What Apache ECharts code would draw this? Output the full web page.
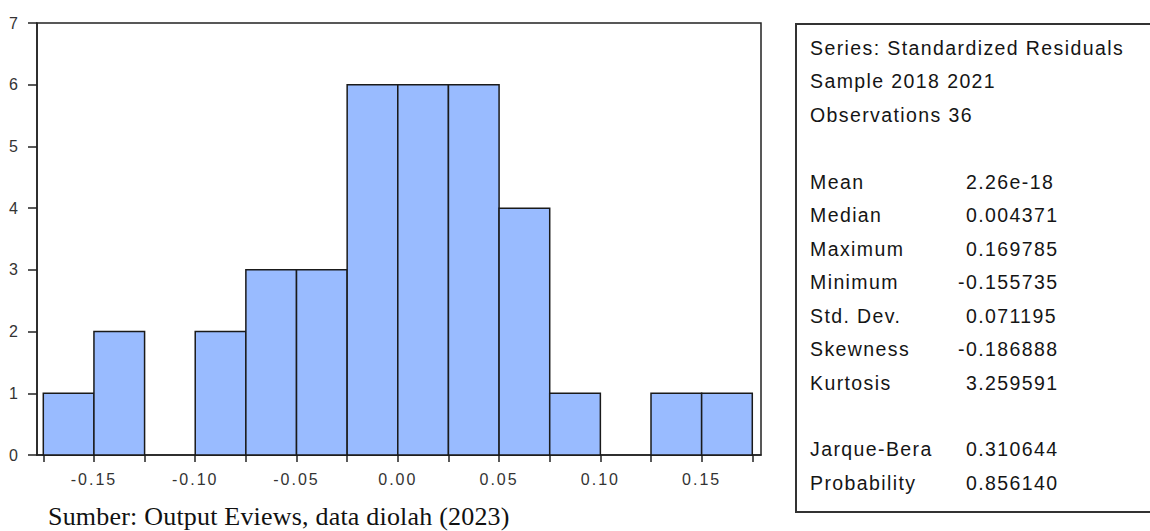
<!DOCTYPE html>
<html>
<head>
<meta charset="utf-8">
<script src="https://cdn.jsdelivr.net/npm/echarts@6/dist/echarts.min.js"></script>
<style>
  html, body { margin: 0; padding: 0; background: #fff; }
  #chart { width: 1150px; height: 531px; }
  /* EViews-style wide text spacing for the sans-serif labels */
  #chart text { letter-spacing: 1.4px; }
  #chart text[style*="Serif"] { letter-spacing: 0.2px; }
</style>
</head>
<body>
<div id="chart"></div>
<script>
// Histogram of standardized residuals: bin edges (width 0.025) and counts per bin
const binEdges = [-0.175, -0.15, -0.125, -0.10, -0.075, -0.05, -0.025, 0.0,
                  0.025, 0.05, 0.075, 0.10, 0.125, 0.15, 0.175];
const counts = [1, 2, 0, 2, 3, 3, 6, 6, 6, 4, 1, 0, 1, 1];

// Labelled ticks on the horizontal axis
const xLabelValues = [-0.15, -0.10, -0.05, 0.0, 0.05, 0.10, 0.15];

// Descriptive statistics panel
const headerLines = ['Series: Standardized Residuals', 'Sample 2018 2021', 'Observations 36'];
const statNames = ['Mean', 'Median', 'Maximum', 'Minimum', 'Std. Dev.', 'Skewness', 'Kurtosis'];
const statValues = ['2.26e-18', '0.004371', '0.169785', '-0.155735', '0.071195', '-0.186888', '3.259591'];
const testNames = ['Jarque-Bera', 'Probability'];
const testValues = ['0.310644', '0.856140'];

const caption = 'Sumber: Output Eviews, data diolah (2023)';

const SANS = '"Liberation Sans", Arial, sans-serif';
const SERIF = '"Liberation Serif", "Times New Roman", serif';
const statFont = '19.5px ' + SANS;
const AXIS_FONT_SIZE = 16;

const histData = [];
counts.forEach((c, i) => {
  if (c > 0) histData.push([binEdges[i], binEdges[i + 1], c]);
});

// Panel text rows
const rowTop = 48, rowStep = 33.45;
const labelX = 810, valueX = 966, minusX = 958;
const panelTexts = [];
function addRow(row, name, value) {
  const y = rowTop + rowStep * row;
  panelTexts.push({
    type: 'text', x: labelX, y: y,
    style: { text: name, font: statFont, fill: '#151515', align: 'left', verticalAlign: 'middle' }
  });
  if (value !== undefined) {
    panelTexts.push({
      type: 'text', x: value.charAt(0) === '-' ? minusX : valueX, y: y,
      style: { text: value, font: statFont, fill: '#151515', align: 'left', verticalAlign: 'middle' }
    });
  }
}
headerLines.forEach((t, i) => addRow(i, t));
statNames.forEach((t, i) => addRow(4 + i, t, statValues[i]));
testNames.forEach((t, i) => addRow(12 + i, t, testValues[i]));

const chart = echarts.init(document.getElementById('chart'), null, { renderer: 'svg' });

chart.setOption({
  animation: false,
  backgroundColor: '#ffffff',
  grid: {
    left: 37, top: 23, width: 724, height: 432,
    show: true, borderColor: '#222', borderWidth: 1.5,
    outerBoundsMode: 'none'
  },
  xAxis: {
    type: 'value',
    min: -0.17811, max: 0.1793,
    splitLine: { show: false },
    axisLine: { show: true, onZero: false, lineStyle: { color: '#222', width: 1.5 } },
    axisTick: {
      show: true, inside: false, length: 7, customValues: binEdges,
      lineStyle: { color: '#222', width: 1.5 }
    },
    axisLabel: {
      customValues: xLabelValues,
      formatter: v => Number(v).toFixed(2),
      margin: 16, color: '#333', fontSize: AXIS_FONT_SIZE, fontFamily: SANS
    }
  },
  yAxis: {
    type: 'value',
    min: 0, max: 7, interval: 1,
    splitLine: { show: false },
    axisLine: { show: true, onZero: false, lineStyle: { color: '#222', width: 1.5 } },
    axisTick: { show: true, inside: false, length: 9, lineStyle: { color: '#222', width: 1.5 } },
    axisLabel: { margin: 17, color: '#333', fontSize: AXIS_FONT_SIZE, fontFamily: SANS }
  },
  series: [{
    type: 'custom',
    data: histData,
    encode: { x: [0, 1], y: 2 },
    renderItem: function (params, api) {
      const p0 = api.coord([api.value(0), 0]);
      const p1 = api.coord([api.value(1), api.value(2)]);
      return {
        type: 'rect',
        shape: { x: p0[0], y: p1[1], width: p1[0] - p0[0], height: p0[1] - p1[1] },
        style: { fill: '#99bbff', stroke: '#1a1a1a', lineWidth: 1.5 }
      };
    }
  }],
  graphic: [
    {
      type: 'rect',
      shape: { x: 796, y: 24, width: 360, height: 488 },
      style: { fill: 'none', stroke: '#333', lineWidth: 2 }
    },
    ...panelTexts,
    {
      type: 'text', x: 48, y: 516,
      style: { text: caption, font: '26px ' + SERIF, fill: '#111', align: 'left', verticalAlign: 'middle' }
    }
  ]
});

// Axis tick labels get a slightly wider spacing than the statistics text
function spaceAxisLabels() {
  document.querySelectorAll('#chart text').forEach(el => {
    const cs = getComputedStyle(el);
    const size = parseFloat(cs.fontSize);
    const isSans = /sans/i.test(cs.fontFamily);
    if (isSans && Math.abs(size - AXIS_FONT_SIZE) < 0.5) {
      el.style.letterSpacing = '2px';
    }
  });
}
spaceAxisLabels();
chart.on('finished', spaceAxisLabels);
</script>
</body>
</html>
